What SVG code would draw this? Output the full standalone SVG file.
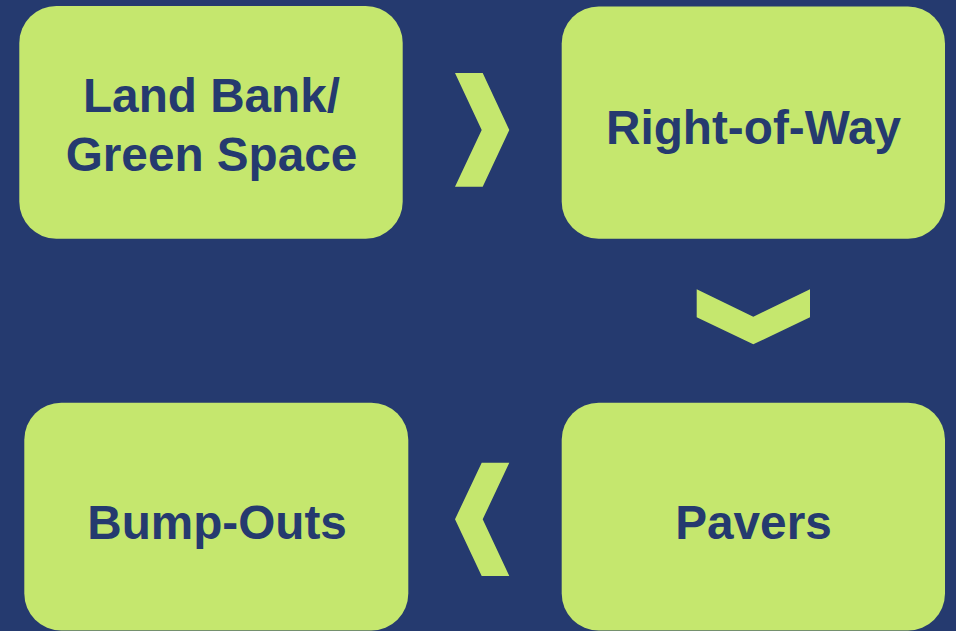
<svg xmlns="http://www.w3.org/2000/svg" width="956" height="631" viewBox="0 0 956 631">
<style>
.box{fill:#c5e76e}
.lbl{font-family:"Liberation Sans",Arial,sans-serif;font-weight:bold;font-size:47.7px;fill:#253a6f;text-anchor:middle}
.chev{fill:#c5e76e}
</style>
<rect width="956" height="631" fill="#253a6f"/>
<g id="node-landbank">
<rect class="box" x="19.3" y="6" width="383.4" height="232.7" rx="37" ry="37"/>
<text class="lbl" x="211.5" y="112">Land Bank/</text>
<text class="lbl" x="211.5" y="170.5">Green Space</text>
</g>
<g id="node-row">
<rect class="box" x="561.7" y="6.5" width="383.3" height="232.2" rx="37" ry="37"/>
<text class="lbl" x="753.5" y="143.5">Right-of-Way</text>
</g>
<g id="node-pavers">
<rect class="box" x="561.7" y="402.7" width="383.3" height="227.8" rx="37" ry="37"/>
<text class="lbl" x="753.5" y="538.5">Pavers</text>
</g>
<g id="node-bumpouts">
<rect class="box" x="24.3" y="402.7" width="384" height="227.8" rx="37" ry="37"/>
<text class="lbl" x="217" y="538.5">Bump-Outs</text>
</g>
<g id="connectors">
<polygon class="chev" points="455,73 482.7,73 509.3,130 482.7,186.7 455,186.7 481.7,130"/>
<polygon class="chev" points="696.7,289.3 753.3,316.7 810,289.3 810,317.3 753.3,344.3 696.7,317.3"/>
<polygon class="chev" points="509.3,462.7 481.7,462.7 455,519.3 481.7,576 509.3,576 482.7,519.3"/>
</g>
</svg>
